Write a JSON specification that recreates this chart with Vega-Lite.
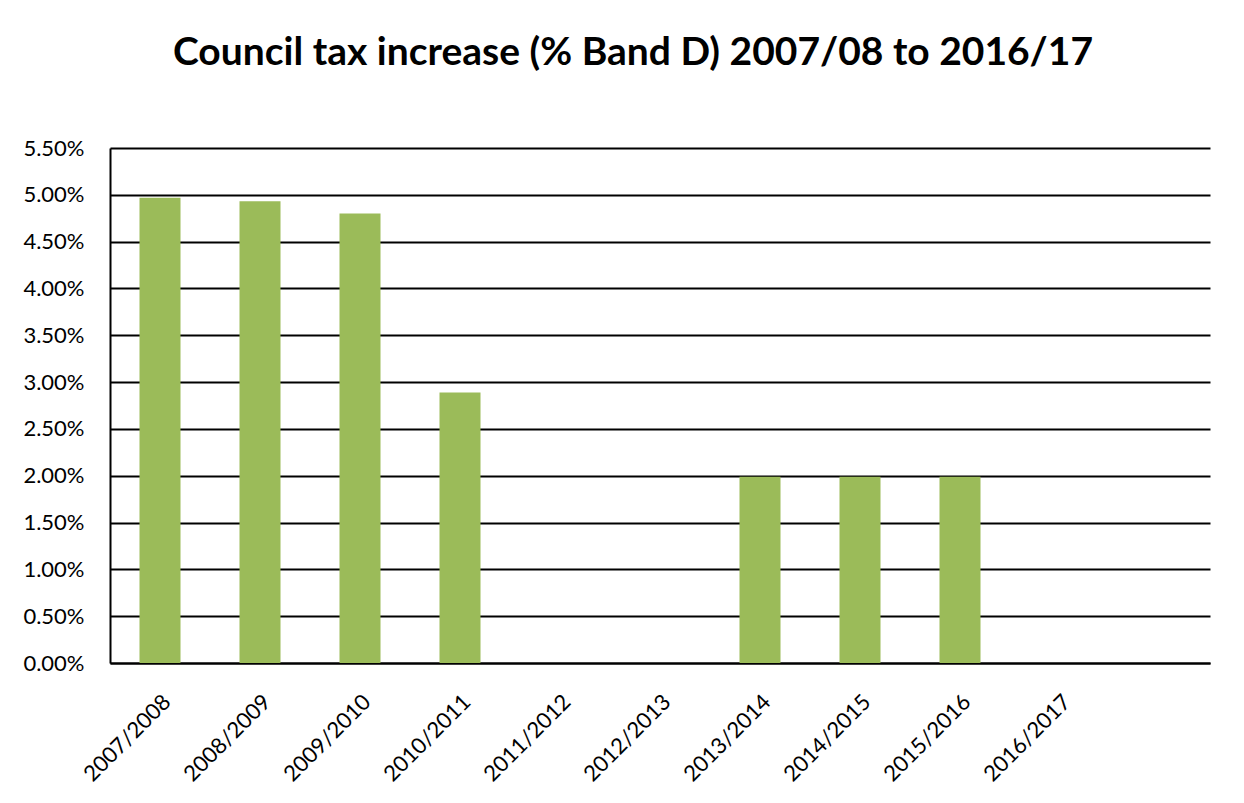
{
  "$schema": "https://vega.github.io/schema/vega-lite/v6.json",
  "autosize": {"type": "none"},
  "width": 1100,
  "height": 515,
  "padding": {"left": 110, "top": 148, "right": 34, "bottom": 140},
  "background": "white",
  "config": {
    "view": {"stroke": null},
    "font": "Lato"
  },
  "title": {
    "text": "Council tax increase (% Band D) 2007/08 to 2016/17",
    "fontSize": 39,
    "fontWeight": "bold",
    "font": "Lato",
    "color": "black",
    "anchor": "middle",
    "dx": -27,
    "offset": 64
  },
  "data": {
    "values": [
      {"year": "2007/2008", "increase": 0.0497},
      {"year": "2008/2009", "increase": 0.0493},
      {"year": "2009/2010", "increase": 0.0480},
      {"year": "2010/2011", "increase": 0.0289},
      {"year": "2011/2012", "increase": 0},
      {"year": "2012/2013", "increase": 0},
      {"year": "2013/2014", "increase": 0.0199},
      {"year": "2014/2015", "increase": 0.0199},
      {"year": "2015/2016", "increase": 0.0199},
      {"year": "2016/2017", "increase": 0}
    ]
  },
  "mark": {"type": "bar", "color": "#9BBB59", "size": 41},
  "encoding": {
    "x": {
      "field": "year",
      "type": "nominal",
      "sort": null,
      "scale": {
        "domain": ["2007/2008", "2008/2009", "2009/2010", "2010/2011", "2011/2012", "2012/2013", "2013/2014", "2014/2015", "2015/2016", "2016/2017", "2017/2018"],
        "paddingInner": 0,
        "paddingOuter": 0
      },
      "axis": {
        "title": null,
        "labelAngle": -45,
        "labelFontSize": 22,
        "labelColor": "black",
        "labelFont": "Lato",
        "labelExpr": "datum.value == '2017/2018' ? '' : datum.value",
        "ticks": false,
        "domainColor": "black",
        "domainWidth": 2,
        "labelPadding": 28,
        "grid": false
      }
    },
    "y": {
      "field": "increase",
      "type": "quantitative",
      "scale": {"domain": [0, 0.055], "nice": false},
      "axis": {
        "title": null,
        "format": ".2%",
        "values": [0, 0.005, 0.01, 0.015, 0.02, 0.025, 0.03, 0.035, 0.04, 0.045, 0.05, 0.055],
        "labelFontSize": 22,
        "labelColor": "black",
        "labelFont": "Lato",
        "ticks": false,
        "labelPadding": 26,
        "domainColor": "black",
        "domainWidth": 2,
        "grid": true,
        "gridColor": "black",
        "gridWidth": 1.8
      }
    }
  }
}
